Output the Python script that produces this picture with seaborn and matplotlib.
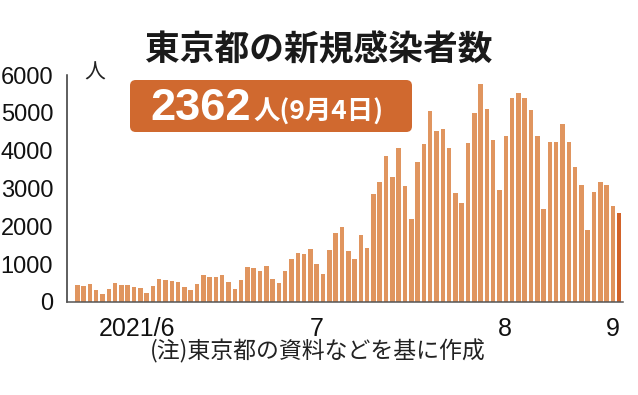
import numpy as np
import pandas as pd
import matplotlib
matplotlib.use("Agg")
import matplotlib.pyplot as plt
from matplotlib.patches import FancyBboxPatch
import seaborn as sns

# daily new cases in Tokyo, 2021/6/10 - 2021/9/4
june = [439, 435, 467, 304, 209, 337, 501, 452, 453, 388, 376, 236, 435, 619,
        570, 562, 534, 386, 317, 476, 714]
july = [673, 660, 716, 518, 342, 593, 920, 896, 822, 950, 614, 502, 830, 1149,
        1308, 1271, 1410, 1008, 727, 1387, 1832, 1979, 1359, 1128, 1763, 1429,
        2848, 3177, 3865, 3300, 4058]
august = [3058, 2195, 3709, 4166, 5042, 4515, 4566, 4066, 2884, 2612, 4200,
          4989, 5773, 5094, 4295, 2962, 4377, 5386, 5534, 5405, 5074, 4392,
          2447, 4220, 4228, 4704, 4227, 3581, 3081, 1915, 2909]
september = [3168, 3099, 2539, 2362]

month_labels = ["2021/6", "7", "8", "9"]
y_ticks = [0, 1000, 2000, 3000, 4000, 5000, 6000]

cases = june + july + august + september
days = pd.date_range("2021-06-10", periods=len(cases), freq="D").strftime("%m/%d")
df = pd.DataFrame({"day": days, "cases": cases})
df["group"] = "past"
df.loc[df.index[-1], "group"] = "latest"

bar_color = "#e0955f"
last_color = "#d2632a"
badge_color = "#d0692f"
cjk = ["Noto Sans CJK JP", "DejaVu Sans"]
narrow = ["Liberation Sans Narrow", "Liberation Sans", "DejaVu Sans"]

sns.set_style("white")
W, H = 638, 395
fig = plt.figure(figsize=(W / 100, H / 100), dpi=100)
ax = fig.add_axes([67 / W, 93 / H, 556 / W, 227 / H])

sns.barplot(data=df, x="day", y="cases", hue="group", order=list(days),
            palette={"past": bar_color, "latest": last_color}, dodge=False,
            width=0.72, saturation=1, legend=False, linewidth=0,
            edgecolor="none", ax=ax)

ax.set_xlim(-1.63, 86.6)
ax.set_ylim(0, 6000)
ax.set_xlabel("")
ax.set_ylabel("")

for s in ["top", "right"]:
    ax.spines[s].set_visible(False)
ax.spines["left"].set_color("#333333")
ax.spines["left"].set_linewidth(1.1)
ax.spines["bottom"].set_color("#555555")
ax.spines["bottom"].set_linewidth(1.1)

ax.set_yticks(y_ticks)
ax.set_yticklabels([str(v) for v in y_ticks], family=narrow, fontsize=17, color="#111111")
ax.tick_params(axis="y", direction="in", length=9.5, width=1.1, color="#333333", pad=10)

# month boundaries
n_jun, n_jul, n_aug = len(june), len(july), len(august)
bounds = [n_jun - 0.5, n_jun + n_jul - 0.5, n_jun + n_jul + n_aug - 0.5]
ax.set_xticks(bounds)
ax.set_xticklabels([""] * len(bounds))
ax.tick_params(axis="x", which="major", direction="out", length=8, width=1, color="#999999")
ax.set_xticks([9.5, 38, 67.9, 85], minor=True)
ax.set_xticklabels(month_labels, minor=True, family=narrow, fontsize=18, color="#111111")
ax.tick_params(axis="x", which="minor", length=0, pad=11)

def fx(px):
    return px / W

def fy(py):
    return 1 - py / H

# title
fig.text(fx(319), fy(50), "東京都の新規感染者数", family=cjk, fontsize=25,
         fontweight="bold", color="#1a1a1a", ha="center", va="center")

# unit
fig.text(fx(95), fy(73), "人", family=cjk, fontsize=15, color="#222222",
         ha="center", va="center")

# badge
badge = FancyBboxPatch((fx(130), fy(132)), fx(282), 52 / H,
                       boxstyle="round,pad=0,rounding_size=0.009",
                       mutation_aspect=W / H, transform=fig.transFigure,
                       facecolor=badge_color, edgecolor="none")
fig.add_artist(badge)
fig.text(fx(150), fy(120), "2362", family=["Liberation Sans", "DejaVu Sans"],
         fontsize=32.5, fontweight="bold", color="white", ha="left", va="baseline")
fig.text(fx(253), fy(120), "人(9月4日)", family=cjk, fontsize=19,
         fontweight="bold", color="white", ha="left", va="baseline")

# footnote
fig.text(fx(318), fy(351), "(注)東京都の資料などを基に作成", family=cjk,
         fontsize=16.5, color="#222222", ha="center", va="center")

fig.savefig("out.png", dpi=100)
